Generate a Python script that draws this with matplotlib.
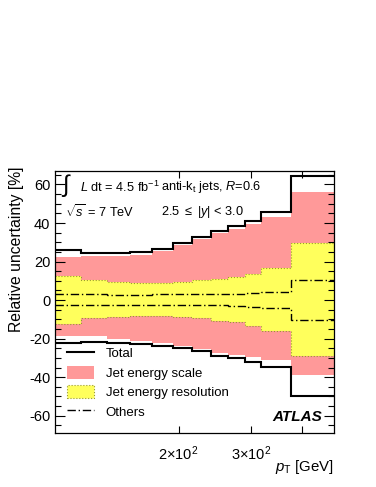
import numpy as np
import matplotlib
matplotlib.use('Agg')
import matplotlib.pyplot as plt
from matplotlib.lines import Line2D
from matplotlib.patches import Patch
from matplotlib.ticker import FixedLocator, NullLocator, MultipleLocator

plt.rcParams['font.family'] = ['Liberation Sans', 'DejaVu Sans']
plt.rcParams['mathtext.fontset'] = 'custom'
plt.rcParams['mathtext.rm'] = 'Liberation Sans'
plt.rcParams['mathtext.it'] = 'Liberation Sans:italic'
plt.rcParams['mathtext.bf'] = 'Liberation Sans:bold'
plt.rcParams['axes.unicode_minus'] = False

# pT bin edges [GeV]
edges = [100, 116, 134, 152, 172, 194, 216, 240, 264, 290, 318, 376, 478]

# relative uncertainties [%]
tot_up = [25.9, 24.5, 24.2, 25.0, 26.7, 29.4, 32.7, 35.6, 38.3, 41.1, 45.7, 64.3]
tot_dn = [-22.1, -21.8, -22.1, -22.8, -23.8, -25.0, -26.5, -29.1, -30.3, -32.2, -34.7, -49.8]
jes_up = [22.4, 22.9, 22.8, 23.5, 25.3, 28.4, 31.8, 34.6, 37.1, 39.5, 42.9, 56.1]
jes_dn = [-18.4, -18.9, -20.1, -21.4, -22.4, -23.8, -25.3, -27.4, -28.6, -29.8, -31.0, -38.8]
jer_up = [12.7, 10.3, 9.3, 8.8, 8.8, 9.6, 10.3, 11.0, 12.2, 13.7, 16.5, 29.4]
jer_dn = [-12.4, -9.5, -8.8, -8.1, -8.1, -8.8, -9.5, -10.7, -11.5, -13.2, -16.0, -29.1]
oth_up = [2.9, 2.9, 2.8, 2.8, 2.9, 3.0, 3.1, 3.2, 3.3, 3.5, 4.1, 10.6]
oth_dn = [-2.3, -2.5, -2.6, -2.6, -2.6, -2.7, -2.8, -2.8, -3.0, -3.4, -4.0, -10.1]

pink = '#ff9999'
yellow = '#ffff5c'
dotcol = '#9a9a30'
dashdot = (0, (6, 2, 1, 2))

W, H = 376, 487
fig = plt.figure(figsize=(W/100, H/100), dpi=100)
ax = fig.add_axes([55/W, 1-433/H, 279/W, 262/H])

ax.stairs(jes_up, edges, baseline=jes_dn, fill=True, color=pink, lw=0)
ax.stairs(jer_up, edges, baseline=jer_dn, fill=True, color=yellow, lw=0)
ax.stairs(jer_up, edges, baseline=None, color=dotcol, lw=0.8, ls=':')
ax.stairs(jer_dn, edges, baseline=None, color=dotcol, lw=0.8, ls=':')
ax.stairs(oth_up, edges, baseline=None, color='k', lw=1.0, ls=dashdot)
ax.stairs(oth_dn, edges, baseline=None, color='k', lw=1.0, ls=dashdot)
ax.stairs(tot_up, edges, baseline=None, color='k', lw=1.5)
ax.stairs(tot_dn, edges, baseline=None, color='k', lw=1.5)

ax.set_xscale('log')
ax.set_xlim(100, 478)
ax.set_ylim(-69, 67)
ax.xaxis.set_major_locator(FixedLocator([200, 300]))
ax.xaxis.set_minor_locator(FixedLocator([400]))
ax.set_xticklabels([r'$\mathregular{2{\times}10^{2}}$', r'$\mathregular{3{\times}10^{2}}$'])
ax.xaxis.set_minor_formatter(plt.NullFormatter())
ax.yaxis.set_major_locator(MultipleLocator(20))
ax.yaxis.set_minor_locator(MultipleLocator(5))
ax.tick_params(which='both', direction='in', top=True, right=True, labelsize=10.5)
ax.tick_params(which='major', length=7, width=0.8)
ax.tick_params(which='minor', length=4, width=0.8)
ax.tick_params(axis='x', which='both', length=5)
ax.tick_params(axis='x', pad=8)
for s in ax.spines.values():
    s.set_linewidth(0.9)

fig.text(17/W, 1-167/H, 'Relative uncertainty [%]', rotation=90, ha='center', va='top', fontsize=11.3)
fig.text(334/W, 1-467/H, r'$p_{\mathregular{T}}$ [GeV]', ha='right', va='center', fontsize=10.8)

fig.text(62/W, 1-186/H, '\u222b', ha='left', va='center', fontsize=17)
fig.text(80/W, 1-187/H, r'$L$ dt = 4.5 fb$^{\mathregular{-1}}$', ha='left', va='center', fontsize=9.2)
fig.text(161/W, 1-187/H, r'anti-k$_{\mathregular{t}}$ jets, $R$=0.6', ha='left', va='center', fontsize=9.2)
fig.text(65/W, 1-212/H, r'$\sqrt{s}$ = 7 TeV', ha='left', va='center', fontsize=9.2)
fig.text(161/W, 1-212/H, r'2.5 $\mathregular{\leq}$ |$y$| < 3.0', ha='left', va='center', fontsize=9.2)
fig.text(322/W, 1-417/H, 'ATLAS', ha='right', va='center', fontsize=11,
         fontweight='bold', fontstyle='italic')

handles = [Line2D([], [], color='k', lw=1.5),
           Patch(facecolor=pink, edgecolor='none'),
           Patch(facecolor=yellow, edgecolor=dotcol, ls=':', lw=0.8),
           Line2D([], [], color='k', lw=1.0, ls=dashdot)]
labels = ['Total', 'Jet energy scale', 'Jet energy resolution', 'Others']
ax.legend(handles, labels, loc='lower left', bbox_to_anchor=(0.025, 0.035),
          frameon=False, fontsize=9.5, handlelength=2.0, handleheight=1.1,
          handletextpad=0.9, labelspacing=0.42, borderaxespad=0)

fig.savefig('out.png', dpi=100)
